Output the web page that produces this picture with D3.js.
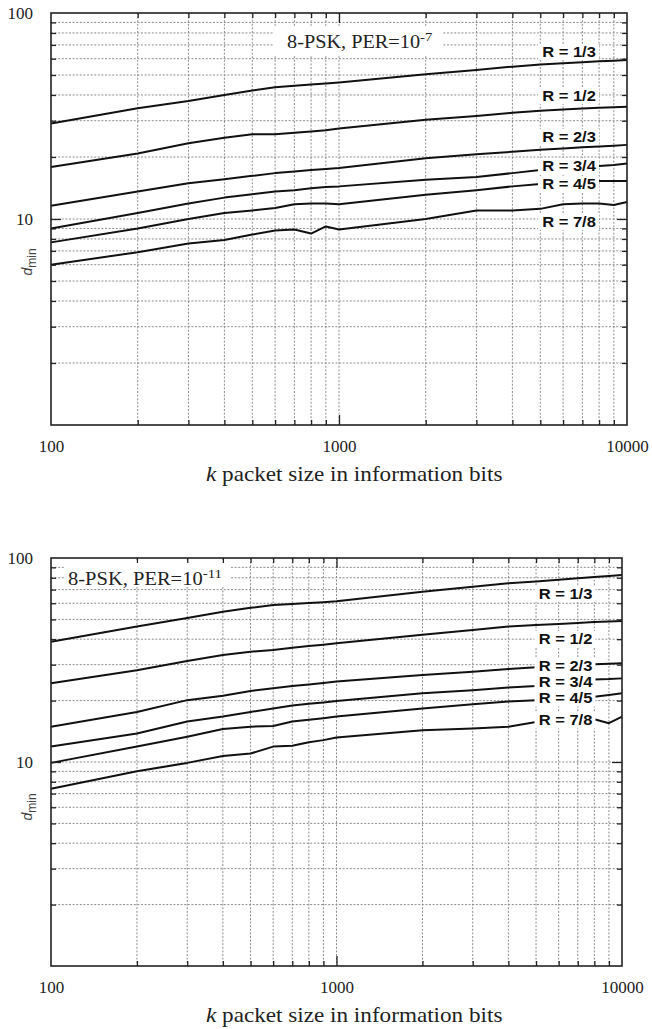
<!DOCTYPE html>
<html>
<head>
<meta charset="utf-8">
<title>dmin vs packet size, 8-PSK</title>
<script src="https://cdn.jsdelivr.net/npm/d3@7/dist/d3.min.js"></script>
<style>
  body { margin: 0; background: #fff; }
  svg { display: block; }
  .grid line { stroke: #8c8c8c; stroke-width: 1; stroke-dasharray: 2,1.6; }
  .ticklab text { font-family: "Liberation Serif", "Times New Roman", serif; font-size: 17px; fill: #222; }
  .xtitle { font-family: "Liberation Serif", "Times New Roman", serif; font-size: 20px; fill: #222; }
  .ptitle { font-family: "Liberation Serif", "Times New Roman", serif; font-size: 18px; fill: #222; }
  .curve { fill: none; stroke: #111; stroke-width: 2; stroke-linejoin: round; }
  .rlab { font-family: "Liberation Sans", Arial, sans-serif; font-weight: bold; font-size: 14px; fill: #111; }
  .ylab { font-family: "Liberation Sans", Arial, sans-serif; fill: #444; }
</style>
</head>
<body>
<svg width="652" height="1029"></svg>
<script>
// packet sizes k where the curves were read
const kPoints = [100, 200, 300, 400, 500, 600, 700, 800, 900, 1000, 2000, 3000, 4000, 5000, 6000, 7000, 8000, 9000, 10000];
const rates = ["R = 1/3", "R = 1/2", "R = 2/3", "R = 3/4", "R = 4/5", "R = 7/8"];

// dmin, PER = 1e-7
const per7_r13 = [29.1, 34.5, 37.4, 40.0, 42.0, 43.6, 44.4, 45.0, 45.5, 46.0, 50.4, 52.9, 54.9, 56.2, 57.0, 57.7, 58.3, 58.7, 59.1];
const per7_r12 = [17.9, 20.8, 23.3, 24.8, 25.8, 25.8, 26.2, 26.6, 27.0, 27.5, 30.3, 31.6, 32.8, 33.5, 34.0, 34.4, 34.7, 34.9, 35.1];
const per7_r23 = [11.6, 13.6, 14.9, 15.6, 16.2, 16.7, 17.0, 17.3, 17.5, 17.7, 19.7, 20.6, 21.2, 21.7, 22.0, 22.3, 22.5, 22.7, 22.9];
const per7_r34 = [9.0, 10.7, 11.9, 12.7, 13.2, 13.6, 13.8, 14.1, 14.3, 14.4, 15.5, 16.0, 16.7, 17.3, 17.6, 17.9, 18.1, 18.3, 18.6];
const per7_r45 = [7.7, 9.0, 10.0, 10.7, 11.0, 11.3, 11.8, 11.9, 11.9, 11.8, 13.1, 13.8, 14.4, 14.8, 15.0, 15.2, 15.3, 15.3, 15.3];
const per7_r78 = [6.0, 6.9, 7.6, 7.9, 8.4, 8.8, 8.9, 8.5, 9.2, 8.9, 10.0, 11.0, 11.0, 11.2, 11.8, 11.9, 11.9, 11.7, 12.1];

// dmin, PER = 1e-11
const per11_r13 = [38.9, 46.1, 50.8, 54.5, 57.0, 58.8, 59.5, 60.2, 60.7, 61.3, 68.4, 72.3, 75.1, 76.8, 78.3, 79.6, 80.7, 81.6, 82.5];
const per11_r12 = [24.3, 28.2, 31.3, 33.5, 34.7, 35.4, 36.3, 37.0, 37.6, 38.2, 42.0, 44.4, 46.1, 46.9, 47.5, 48.0, 48.5, 48.8, 49.1];
const per11_r23 = [14.9, 17.6, 20.1, 21.1, 22.3, 23.0, 23.6, 24.0, 24.4, 24.8, 26.7, 27.7, 28.6, 29.1, 29.5, 29.8, 30.1, 30.3, 30.5];
const per11_r34 = [11.9, 13.8, 15.8, 16.7, 17.6, 18.3, 18.9, 19.3, 19.6, 19.9, 21.7, 22.5, 23.2, 23.6, 24.2, 24.8, 25.4, 25.5, 25.7];
const per11_r45 = [9.9, 11.9, 13.3, 14.5, 14.9, 15.0, 15.8, 16.1, 16.4, 16.7, 18.3, 19.2, 19.8, 20.1, 20.4, 20.7, 20.9, 21.3, 21.7];
const per11_r78 = [7.4, 9.0, 9.9, 10.7, 11.0, 11.9, 12.0, 12.5, 12.8, 13.2, 14.3, 14.6, 14.9, 15.7, 15.9, 16.0, 16.2, 15.5, 16.7];

const xLabels = [100, 1000, 10000];
const yLabels = [10, 100];

// panel layout (label anchors given in data units: k, dmin)
const panels = [
  { left: 51, right: 627, top: 13, bottom: 425,
    series: [per7_r13, per7_r12, per7_r23, per7_r34, per7_r45, per7_r78],
    labelK: 6290, labelD: [64.7, 39.5, 25.0, 18.1, 14.8, 9.67],
    title: "8-PSK, PER=10", exp: "-7", tx: 287, ty: 48, tw: 146, box: [273, 27, 170, 28] },
  { left: 51, right: 622, top: 558, bottom: 966,
    series: [per11_r13, per11_r12, per11_r23, per11_r34, per11_r45, per11_r78],
    labelK: 6340, labelD: [66.6, 40.1, 29.6, 24.7, 20.5, 16.0],
    title: "8-PSK, PER=10", exp: "-11", tx: 68, ty: 585, tw: 154, box: [65, 561, 165, 26] }
];

const svg = d3.select("svg");
const majors = new Set([1, 10, 100, 1000, 10000]);

function drawPanel(p) {
  const x = d3.scaleLog().domain([100, 10000]).range([p.left, p.right]);
  const y = d3.scaleLog().domain([1, 100]).range([p.bottom, p.top]);
  const g = svg.append("g");

  const xInner = x.ticks().filter(v => v > 100 && v < 10000);
  const yInner = y.ticks().filter(v => v > 1 && v < 100);

  // dotted grid
  const grid = g.append("g").attr("class", "grid");
  grid.selectAll(".gx").data(xInner).join("line").attr("class", "gx")
    .attr("x1", d => x(d)).attr("x2", d => x(d)).attr("y1", p.top).attr("y2", p.bottom);
  grid.selectAll(".gy").data(yInner).join("line").attr("class", "gy")
    .attr("x1", p.left).attr("x2", p.right).attr("y1", d => y(d)).attr("y2", d => y(d));

  // title box
  const [bx, by, bw, bh] = p.box;
  g.append("rect").attr("x", bx).attr("y", by).attr("width", bw).attr("height", bh).attr("fill", "#fff");
  const tt = g.append("text").attr("class", "ptitle");
  tt.append("tspan").text(p.title);
  tt.append("tspan").attr("font-size", 13).attr("dy", -7).text(p.exp);
  const tb = tt.node().getBBox();
  tt.attr("transform", `translate(${p.tx},${p.ty}) scale(${p.tw / tb.width},1)`);

  // curves
  const line = d3.line().x((d, i) => x(kPoints[i])).y(d => y(d));
  g.selectAll(".curve").data(p.series).join("path").attr("class", "curve").attr("d", line);

  // rate labels with white backing
  rates.forEach((r, i) => {
    const lg = g.append("g").attr("transform", `translate(${x(p.labelK)},${y(p.labelD[i])})`);
    const t = lg.append("text").attr("class", "rlab").attr("text-anchor", "middle").attr("dy", "0.36em").text(r);
    const bb = t.node().getBBox();
    const s = 54 / bb.width;
    t.attr("transform", `scale(${s},1)`);
    lg.insert("rect", "text").attr("x", -bb.width * s / 2 - 4).attr("y", bb.y)
      .attr("width", bb.width * s + 7).attr("height", bb.height).attr("fill", "#fff");
  });

  // inward ticks on all four sides
  function ticks(axisFn, scale, vals, size, tr) {
    g.append("g").attr("transform", tr)
      .call(axisFn(scale).tickValues(vals).tickSize(size).tickFormat(""))
      .call(a => a.select(".domain").remove())
      .selectAll("line").attr("stroke", "#222").attr("stroke-width", 1.3);
  }
  const xMin = xInner.filter(v => !majors.has(v)), xMaj = xInner.filter(v => majors.has(v));
  const yMin = yInner.filter(v => !majors.has(v)), yMaj = yInner.filter(v => majors.has(v));
  ticks(d3.axisBottom, x, xMin, -5, `translate(0,${p.bottom})`);
  ticks(d3.axisBottom, x, xMaj, -10, `translate(0,${p.bottom})`);
  ticks(d3.axisTop, x, xMin, -5, `translate(0,${p.top})`);
  ticks(d3.axisTop, x, xMaj, -10, `translate(0,${p.top})`);
  ticks(d3.axisLeft, y, yMin, -5, `translate(${p.left},0)`);
  ticks(d3.axisLeft, y, yMaj, -10, `translate(${p.left},0)`);
  ticks(d3.axisRight, y, yMin, -5, `translate(${p.right},0)`);
  ticks(d3.axisRight, y, yMaj, -10, `translate(${p.right},0)`);

  // frame
  g.append("rect").attr("x", p.left).attr("y", p.top)
    .attr("width", p.right - p.left).attr("height", p.bottom - p.top)
    .attr("fill", "none").attr("stroke", "#222").attr("stroke-width", 1.6);

  // tick labels
  g.append("g").attr("class", "ticklab").attr("transform", `translate(0,${p.bottom})`)
    .call(d3.axisBottom(x).tickValues(xLabels).tickSize(0).tickPadding(15).tickFormat(d3.format("d")))
    .call(a => a.select(".domain").remove());
  g.append("g").attr("class", "ticklab").attr("transform", `translate(${p.left},0)`)
    .call(d3.axisLeft(y).tickValues(yLabels).tickSize(0).tickPadding(18).tickFormat(d3.format("d")))
    .call(a => a.select(".domain").remove());

  // axis titles
  const xt = g.append("text").attr("class", "xtitle");
  xt.append("tspan").attr("font-style", "italic").text("k");
  xt.append("tspan").text(" packet size in information bits");
  const xb = xt.node().getBBox();
  xt.attr("transform", `translate(206,${p.bottom + 55.5}) scale(${297 / xb.width},1)`);

  const yt = g.append("text").attr("class", "ylab").attr("text-anchor", "middle")
    .attr("transform", `translate(32,${p.top + 249}) rotate(-90)`);
  yt.append("tspan").attr("font-style", "italic").attr("font-size", 14).text("d");
  yt.append("tspan").attr("font-size", 12).attr("dy", 4).text("min");
}

panels.forEach(drawPanel);
</script>
</body>
</html>
